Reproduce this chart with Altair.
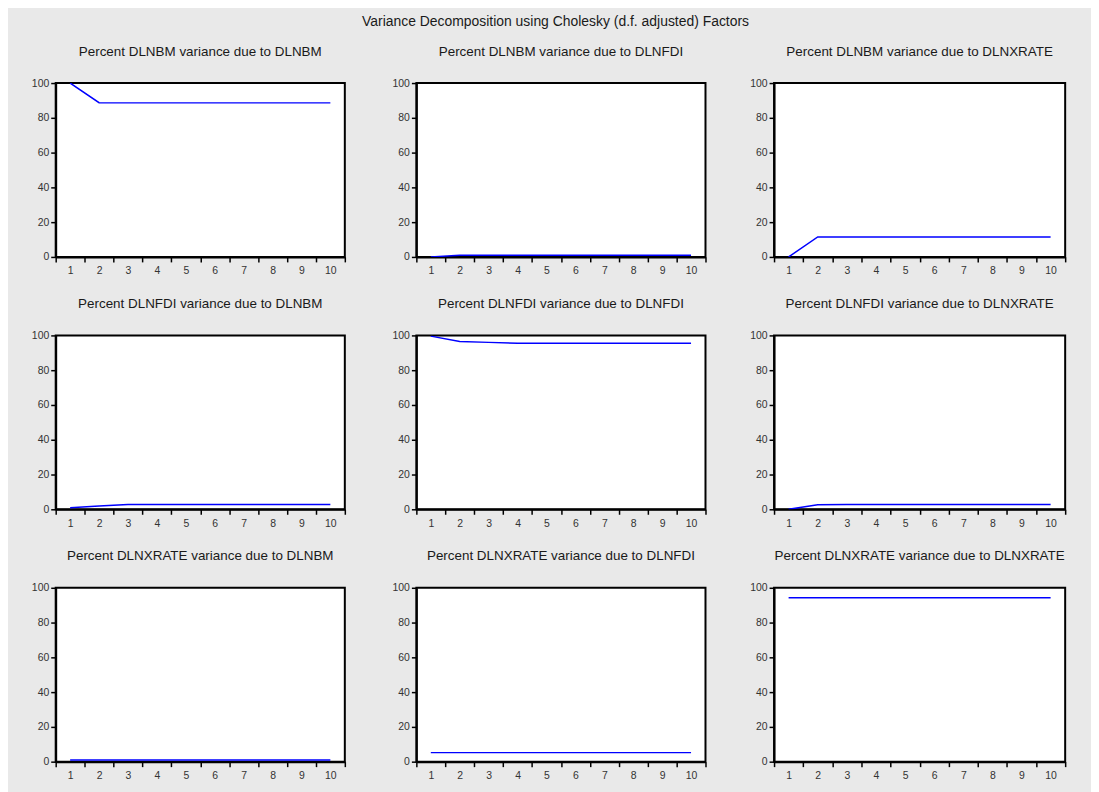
import altair as alt
import pandas as pd

periods = list(range(1, 11))

# Row 1: DLNBM
bm_bm = [100.0, 88.7, 88.6, 88.6, 88.6, 88.6, 88.6, 88.6, 88.6, 88.6]
bm_fdi = [0.0, 1.0, 1.0, 1.0, 1.0, 1.0, 1.0, 1.0, 1.0, 1.0]
bm_xrate = [0.0, 11.5, 11.5, 11.5, 11.5, 11.5, 11.5, 11.5, 11.5, 11.5]
# Row 2: DLNFDI
fdi_bm = [0.9, 1.9, 2.8, 2.8, 2.8, 2.8, 2.8, 2.8, 2.8, 2.8]
fdi_fdi = [99.6, 96.5, 96.0, 95.5, 95.5, 95.5, 95.5, 95.5, 95.5, 95.5]
fdi_xrate = [0.0, 2.6, 2.7, 2.7, 2.7, 2.7, 2.7, 2.7, 2.7, 2.7]
# Row 3: DLNXRATE
xr_bm = [1.0, 1.0, 1.0, 1.0, 1.0, 1.0, 1.0, 1.0, 1.0, 1.0]
xr_fdi = [5.2, 5.2, 5.2, 5.2, 5.2, 5.2, 5.2, 5.2, 5.2, 5.2]
xr_xrate = [94.3, 94.3, 94.3, 94.3, 94.3, 94.3, 94.3, 94.3, 94.3, 94.3]

titles = [
    ["Percent DLNBM variance due to DLNBM", "Percent DLNBM variance due to DLNFDI", "Percent DLNBM variance due to DLNXRATE"],
    ["Percent DLNFDI variance due to DLNBM", "Percent DLNFDI variance due to DLNFDI", "Percent DLNFDI variance due to DLNXRATE"],
    ["Percent DLNXRATE variance due to DLNBM", "Percent DLNXRATE variance due to DLNFDI", "Percent DLNXRATE variance due to DLNXRATE"],
]
series = [
    [bm_bm, bm_fdi, bm_xrate],
    [fdi_bm, fdi_fdi, fdi_xrate],
    [xr_bm, xr_fdi, xr_xrate],
]
y_ticks = [0, 20, 40, 60, 80, 100]
x_edges = [0.5 + i for i in range(11)]

WIDTHS = [291, 291, 293]
H = 175
FONT = "Liberation Sans"


def panel(title, values, w):
    df = pd.DataFrame({"period": periods, "value": values})
    return (
        alt.Chart(df, title=alt.TitleParams(title, fontSize=13.5, fontWeight="normal",
                                            color="#1a1a1a", font=FONT, offset=20,
                                            frame="group", anchor="middle"))
        .mark_line(color="#0000ff", strokeWidth=1.5, clip=True)
        .encode(
            x=alt.X("period:Q",
                    scale=alt.Scale(domain=[0.5, 10.5], nice=False, zero=False),
                    axis=alt.Axis(values=x_edges, title=None,
                                  labelExpr="datum.value < 10 ? format(datum.value + 0.5, 'd') : ''",
                                  labelOffset=w / 20, labelFlush=False, labelOverlap=False,
                                  labelPadding=4)),
            y=alt.Y("value:Q",
                    scale=alt.Scale(domain=[0, 100], nice=False, zero=False),
                    axis=alt.Axis(values=y_ticks, title=None, labelPadding=2,
                                  labelOverlap=False)),
        )
        .properties(width=w, height=H)
    )


rows = []
for tr, sr in zip(titles, series):
    p = [panel(t, v, w) for t, v, w in zip(tr, sr, WIDTHS)]
    rows.append(alt.hconcat(alt.hconcat(p[0], p[1], spacing=30), p[2], spacing=27))

chart = (
    alt.vconcat(*rows, spacing=18)
    .properties(
        title=alt.TitleParams("Variance Decomposition using Cholesky (d.f. adjusted) Factors",
                              fontSize=14, fontWeight="normal", color="#1a1a1a",
                              font=FONT, anchor="middle", offset=15),
        padding={"left": 22, "top": 4, "right": 10, "bottom": 8},
        background="#e9e9e9",
    )
    .configure_view(stroke="black", strokeWidth=2, fill="white")
    .configure_axis(
        domainColor="black", domainWidth=2, tickColor="black", tickWidth=1.5,
        tickSize=5, grid=False, labelFont=FONT, labelFontSize=10.5,
        labelColor="#333333",
    )
)

chart.save("out.html", embed_options={"renderer": "svg", "actions": False})
